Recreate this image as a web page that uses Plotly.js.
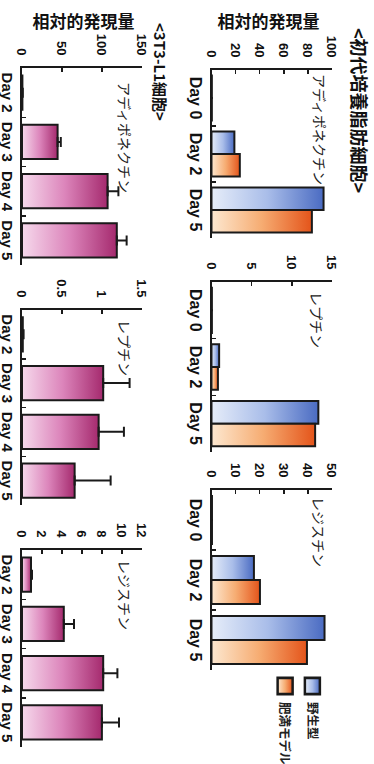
<!DOCTYPE html>
<html>
<head>
<meta charset="utf-8">
<script src="https://cdn.plot.ly/plotly-3.0.1.min.js"></script>
<style>
  html, body { margin: 0; padding: 0; width: 374px; height: 764px; overflow: hidden; background: #fff; }
  /* the figure is laid out landscape and turned a quarter turn clockwise */
  #chart { position: absolute; left: 0; top: 0; width: 764px; height: 374px;
           transform-origin: 0 0; transform: translate(374px, 0) rotate(90deg); }
</style>
</head>
<body>
<div id="chart"></div>
<script>
// ---- data: primary cultured adipocytes (wild type vs. obese model) ----
const daysPrimary = ['Day 0', 'Day 2', 'Day 5'];
const adipoWild   = [0.3, 19, 93];
const adipoObese  = [0.3, 23.5, 83.3];
const leptinWild  = [0.05, 0.95, 13.3];
const leptinObese = [0.05, 0.8, 12.9];
const resistWild  = [0.2, 17.6, 46.9];
const resistObese = [0.2, 20.1, 39.6];

// ---- data: 3T3-L1 cells (mean and upper error) ----
const days3T3      = ['Day 2', 'Day 3', 'Day 4', 'Day 5'];
const adipo3T3     = [0.5, 44.5, 107, 118.5];
const adipo3T3Err  = [0.5, 4, 13.5, 12.3];
const leptin3T3    = [0.01, 1.015, 0.958, 0.658];
const leptin3T3Err = [0.01, 0.33, 0.316, 0.45];
const resist3T3    = [0.9, 4.18, 8.12, 7.99];
const resist3T3Err = [0.1, 1.02, 1.42, 1.71];

// ---- labels ----
const seriesNames = ['野生型', '肥満モデル'];
const geneNames   = ['アディポネクチン', 'レプチン', 'レジスチン'];
const rowTitles   = ['<初代培養脂肪細胞>', '<3T3-L1細胞>'];
const yTitle      = '相対的発現量';
const yRanges     = [[0, 100], [0, 15], [0, 50], [0, 150], [0, 1.5], [0, 12]];
const yDticks     = [20, 5, 10, 50, 0.5, 2];

// ---- style ----
const W = 764, H = 374;
const LATIN = 'Liberation Sans, Arial, sans-serif';
const CJK = 'Noto Sans CJK JP, sans-serif';
const EDGE = '#1a1a1a';
const BASE = { blue: '#8aa2dc', orange: '#f29a5c', pink: '#d270a8' };
const RAMP = {
  blue:   ['#e6edf9', '#a9bde9', '#4a6bc2'],
  orange: ['#fde8d0', '#f6ac72', '#e4541a'],
  pink:   ['#f6d9ec', '#dc85bb', '#a52a6e']
};

// panel frames in pixels: [left, right] and [top, bottom] of each plot area
const colsTop = [[70, 238], [282, 452], [490, 670]];
const colsBot = [[68, 265], [310, 505], [550, 747]];
const rowTop = [42, 162.5];
const rowBot = [232, 352];
// legend placement (px): where the labels start and where the swatches are centred
const LEGEND_TEXT_X = 702;
const LEGEND_SWATCH_X = 686;

const px = (u) => u / W;
const py = (v) => 1 - v / H;

function barTrace(i, x, y, color, name, showlegend, err) {
  const t = {
    type: 'bar', x: x, y: y, name: name,
    xaxis: 'x' + (i === 1 ? '' : i), yaxis: 'y' + (i === 1 ? '' : i),
    marker: { color: BASE[color], line: { color: EDGE, width: 2 } },
    showlegend: showlegend, legendgroup: name, hoverinfo: 'skip'
  };
  if (err) {
    t.width = 0.7;
    t.error_y = { type: 'data', symmetric: false, array: err,
                  arrayminus: err.map(() => 0), color: EDGE, thickness: 2, width: 5 };
  }
  return t;
}

const data = [
  barTrace(1, daysPrimary, adipoWild, 'blue', seriesNames[0], true),
  barTrace(1, daysPrimary, adipoObese, 'orange', seriesNames[1], true),
  barTrace(2, daysPrimary, leptinWild, 'blue', seriesNames[0], false),
  barTrace(2, daysPrimary, leptinObese, 'orange', seriesNames[1], false),
  barTrace(3, daysPrimary, resistWild, 'blue', seriesNames[0], false),
  barTrace(3, daysPrimary, resistObese, 'orange', seriesNames[1], false),
  barTrace(4, days3T3, adipo3T3, 'pink', '3T3-L1', false, adipo3T3Err),
  barTrace(5, days3T3, leptin3T3, 'pink', '3T3-L1', false, leptin3T3Err),
  barTrace(6, days3T3, resist3T3, 'pink', '3T3-L1', false, resist3T3Err)
];

const layout = {
  width: W, height: H,
  margin: { l: 0, r: 0, t: 0, b: 0 },
  paper_bgcolor: '#fff', plot_bgcolor: '#fff',
  barmode: 'group', bargap: 0.2, bargroupgap: 0,
  showlegend: true,
  legend: {
    x: 1, y: py(47), xanchor: 'right', yanchor: 'top',
    font: { family: CJK, size: 12.5, weight: 'bold', color: '#222' },
    bgcolor: 'rgba(0,0,0,0)', traceorder: 'grouped', tracegroupgap: 8
  },
  annotations: [],
  font: { family: LATIN, color: '#111' }
};

for (let i = 1; i <= 6; i++) {
  const top = i <= 3;
  const col = top ? colsTop[i - 1] : colsBot[i - 4];
  const row = top ? rowTop : rowBot;
  const sfx = i === 1 ? '' : String(i);
  layout['xaxis' + sfx] = {
    domain: [px(col[0]), px(col[1])], anchor: 'y' + sfx, type: 'category',
    showline: true, linecolor: EDGE, linewidth: 2, mirror: false,
    ticks: 'inside', tickson: 'boundaries', ticklen: 4, tickwidth: 1.5, tickcolor: EDGE,
    tickangle: 0,
    tickfont: { family: LATIN, size: top ? 16 : 15, weight: 'bold', color: '#111' },
    showgrid: false, zeroline: false, fixedrange: true
  };
  layout['yaxis' + sfx] = {
    domain: [py(row[1]), py(row[0])], anchor: 'x' + sfx,
    range: yRanges[i - 1], dtick: yDticks[i - 1], tick0: 0,
    showline: true, linecolor: EDGE, linewidth: 2,
    ticks: 'inside', ticklen: 4, tickwidth: 1.5, tickcolor: EDGE,
    ticklabelstandoff: 8,
    tickfont: { family: LATIN, size: 13, weight: 'bold', color: '#111' },
    showgrid: false, zeroline: false, fixedrange: true
  };
  // gene name inside each panel
  const vc = top ? [54, 57, 54.5][i - 1] : 249;
  const start = top ? [2, 8, 5][i - 1] : [12, 8, 8][i - 4];
  layout.annotations.push({
    text: geneNames[(i - 1) % 3], showarrow: false,
    xref: 'x' + sfx + ' domain', yref: 'y' + sfx + ' domain',
    x: start / (col[1] - col[0]), y: 1 - (vc - row[0]) / (row[1] - row[0]),
    xanchor: 'left', yanchor: 'middle',
    font: { family: CJK, size: 14, color: '#222' }
  });
}

// row titles and value-axis titles
layout.annotations.push(
  { text: rowTitles[0], showarrow: false, xref: 'paper', yref: 'paper',
    x: px(110), y: py(14), xanchor: 'center', yanchor: 'middle',
    font: { family: CJK, size: 18, weight: 'bold', color: '#111' } },
  { text: rowTitles[1], showarrow: false, xref: 'paper', yref: 'paper',
    x: px(72), y: py(214), xanchor: 'center', yanchor: 'middle',
    font: { family: CJK, size: 15, weight: 'bold', color: '#111' } },
  { text: yTitle, showarrow: false, xref: 'paper', yref: 'paper', textangle: -90,
    x: px(20), y: py(105.5), xanchor: 'center', yanchor: 'middle',
    font: { family: CJK, size: 17, weight: 'bold', color: '#111' } },
  { text: yTitle, showarrow: false, xref: 'paper', yref: 'paper', textangle: -90,
    x: px(20), y: py(290.5), xanchor: 'center', yanchor: 'middle',
    font: { family: CJK, size: 17, weight: 'bold', color: '#111' } }
);

// shade each bar (and legend swatch) from pale at the base to saturated at the tip
function hexToRgb(h) {
  const n = parseInt(h.slice(1), 16);
  return 'rgb(' + ((n >> 16) & 255) + ', ' + ((n >> 8) & 255) + ', ' + (n & 255) + ')';
}
function applyGradients(gd) {
  const svg = gd.querySelector('svg.main-svg');
  const defs = svg.querySelector('defs');
  const NS = 'http://www.w3.org/2000/svg';
  const lookup = {};
  Object.keys(RAMP).forEach((k) => {
    const g = document.createElementNS(NS, 'linearGradient');
    g.setAttribute('id', 'barfill-' + k);
    g.setAttribute('x1', '0'); g.setAttribute('y1', '1');
    g.setAttribute('x2', '0'); g.setAttribute('y2', '0');
    RAMP[k].forEach((c, j) => {
      const s = document.createElementNS(NS, 'stop');
      s.setAttribute('offset', String(j / (RAMP[k].length - 1)));
      s.setAttribute('stop-color', c);
      g.appendChild(s);
    });
    defs.appendChild(g);
    lookup[hexToRgb(BASE[k])] = 'url(#barfill-' + k + ')';
  });
  gd.querySelectorAll('path').forEach((p) => {
    const f = p.style.fill;
    if (lookup[f]) p.style.fill = lookup[f];
  });
}

// the plot is turned a quarter turn, so a screen y equals a landscape x
function placeLegend(gd) {
  const leg = gd.querySelector('g.legend');
  if (!leg) return;
  const texts = leg.querySelectorAll('text.legendtext');
  let start = Infinity;
  texts.forEach((t) => { start = Math.min(start, t.getBoundingClientRect().top); });
  const m = /translate\(([-\d.e]+)[ ,]+([-\d.e]+)\)/.exec(leg.getAttribute('transform') || '');
  if (m && isFinite(start)) {
    leg.setAttribute('transform',
      'translate(' + (parseFloat(m[1]) + LEGEND_TEXT_X - start) + ',' + m[2] + ')');
  }
  leg.querySelectorAll('.legendpoints path').forEach((p) => {
    p.setAttribute('transform', 'scale(1.35,1.25)');
    const r = p.getBoundingClientRect();
    const shift = LEGEND_SWATCH_X - (r.top + r.bottom) / 2;
    p.setAttribute('transform', 'translate(' + shift + ',0) scale(1.35,1.25)');
  });
}

const gd = document.getElementById('chart');
Plotly.newPlot(gd, data, layout, { staticPlot: true, displayModeBar: false })
  .then(() => { applyGradients(gd); placeLegend(gd); });
</script>
</body>
</html>
